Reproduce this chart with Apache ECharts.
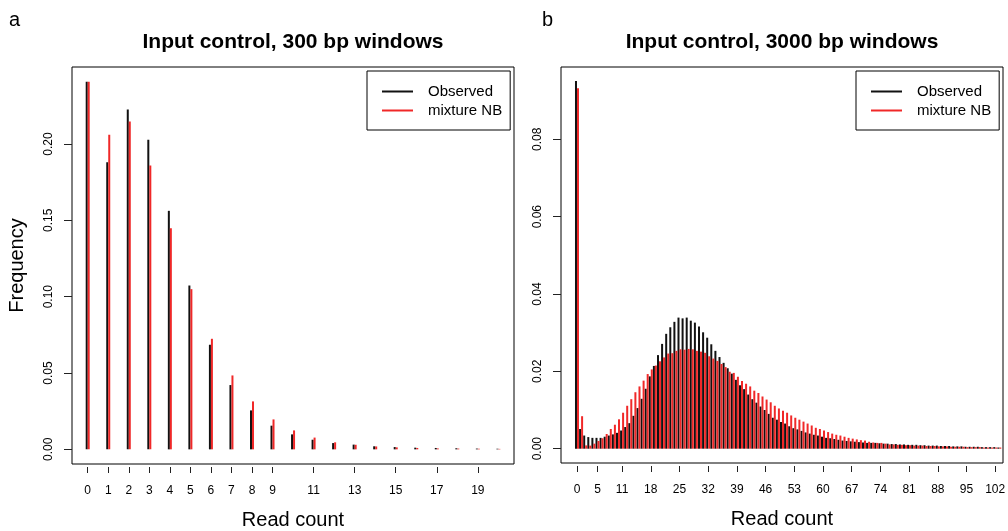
<!DOCTYPE html>
<html><head><meta charset="utf-8">
<script src="https://cdn.jsdelivr.net/npm/echarts@6/dist/echarts.min.js"></script>
<style>html,body{margin:0;padding:0;background:#fff}#c{width:1008px;height:531px}</style>
</head><body><div id="c"></div><script>
// ---- Panel a: 300 bp windows ----
const readCountsA = [0,1,2,3,4,5,6,7,8,9,10,11,12,13,14,15,16,17,18,19,20];
const observedA = [0.2408,0.1880,0.2225,0.2027,0.1562,0.1073,0.0685,0.0421,0.0255,0.0155,0.0098,0.0063,0.0041,0.0031,0.0020,0.0015,0.0011,0.0009,0.0007,0.0005,0.0004];
const mixtureA  = [0.2408,0.2060,0.2147,0.1859,0.1448,0.1049,0.0724,0.0484,0.0314,0.0196,0.0124,0.0077,0.0046,0.0030,0.0019,0.0013,0.0009,0.0006,0.0005,0.0004,0.0003];
const xTicksA = [0,1,2,3,4,5,6,7,8,9,11,13,15,17,19];
const yTicksA = [0,0.05,0.10,0.15,0.20];

// ---- Panel b: 3000 bp windows ----
const readCountsB = [0,1,2,3,4,5,6,7,8,9,10,11,12,13,14,15,16,17,18,19,20,21,22,23,24,25,26,27,28,29,30,31,32,33,34,35,36,37,38,39,40,41,42,43,44,45,46,47,48,49,50,51,52,53,54,55,56,57,58,59,60,61,62,63,64,65,66,67,68,69,70,71,72,73,74,75,76,77,78,79,80,81,82,83,84,85,86,87,88,89,90,91,92,93,94,95,96,97,98,99,100,101,102,103];
const observedB = [0.0951,0.0051,0.0034,0.0030,0.0028,0.0028,0.0028,0.0031,0.0034,0.0037,
  0.0041,0.0047,0.0056,0.0066,0.0085,0.0105,0.0129,0.0155,0.0187,0.0214,
  0.0242,0.0271,0.0297,0.0314,0.0328,0.0339,0.0337,0.0339,0.0331,0.0326,
  0.0316,0.0301,0.0287,0.0270,0.0253,0.0237,0.0222,0.0208,0.0194,0.0178,
  0.0164,0.0154,0.0140,0.0128,0.0119,0.0109,0.0100,0.0090,0.0080,0.0075,
  0.0069,0.0065,0.0058,0.0053,0.0050,0.0046,0.0042,0.0039,0.0036,0.0034,
  0.0031,0.0028,0.0027,0.0025,0.0023,0.0021,0.0020,0.0019,0.0018,0.0017,
  0.0016,0.0015,0.0015,0.0015,0.0014,0.0013,0.0013,0.0012,0.0012,0.0011,
  0.0011,0.0010,0.0010,0.0010,0.0009,0.0009,0.0008,0.0008,0.0008,0.0007,
  0.0007,0.0007,0.0006,0.0006,0.0006,0.0005,0.0005,0.0005,0.0005,0.0004,
  0.0004,0.0004,0.0004,0.0003];
const mixtureB = [0.0932,0.0084,0.00085,0.0008,0.0013,0.0020,0.0027,0.0038,0.0051,0.0062,
  0.0076,0.0093,0.0111,0.0128,0.0146,0.0161,0.0176,0.0193,0.0205,0.0215,
  0.0226,0.0236,0.0246,0.0247,0.0253,0.0257,0.0256,0.0258,0.0257,0.0253,
  0.0251,0.0248,0.0239,0.0233,0.0227,0.0219,0.0211,0.0199,0.0196,0.0186,
  0.0175,0.0168,0.0161,0.0150,0.0144,0.0135,0.0127,0.0120,0.0111,0.0104,
  0.0098,0.0093,0.0086,0.0080,0.0075,0.0070,0.0065,0.0060,0.0054,0.0051,
  0.0047,0.0043,0.0039,0.0036,0.0034,0.0031,0.0028,0.0026,0.0024,0.0022,
  0.0021,0.0018,0.0016,0.0015,0.0015,0.0013,0.0011,0.0011,0.0010,0.0010,
  0.0009,0.0009,0.0008,0.0008,0.0008,0.0007,0.0007,0.0007,0.0006,0.0006,
  0.0006,0.0005,0.0005,0.0005,0.0005,0.0004,0.0004,0.0004,0.0004,0.0003,
  0.0003,0.0003,0.0003,0.0003];
const xTicksB = [0,5,11,18,25,32,39,46,53,60,67,74,81,88,95,102];
const yTicksB = [0,0.02,0.04,0.06,0.08];

const FONT = "'Liberation Sans', Arial, Helvetica, sans-serif";
const BLACK = '#111111', RED = '#f02828';

function xAxisDef(grid, min, max, ticks) {
  return {
    gridIndex: grid, type: 'value', min: min, max: max, offset: 3, position: 'bottom',
    axisLine: {show: false, onZero: false},
    axisTick: {show: true, length: 6, customValues: ticks, lineStyle: {color: '#222', width: 1}},
    axisLabel: {customValues: ticks, margin: 18, fontSize: 12, color: '#000', fontFamily: FONT},
    splitLine: {show: false},
    name: 'Read count', nameLocation: 'middle', nameGap: 43,
    nameTextStyle: {fontSize: 20, color: '#000', fontFamily: FONT}
  };
}
function yAxisDef(grid, min, max, ticks, withName) {
  const ax = {
    gridIndex: grid, type: 'value', min: min, max: max, position: 'left',
    axisLine: {show: false, onZero: false},
    axisTick: {show: true, length: 8, customValues: ticks, lineStyle: {color: '#222', width: 1}},
    axisLabel: {customValues: ticks, rotate: 90, margin: 17, fontSize: 12, color: '#000', fontFamily: FONT,
      formatter: v => v.toFixed(2)},
    splitLine: {show: false}
  };
  if (withName) {
    ax.name = 'Frequency'; ax.nameLocation = 'middle'; ax.nameGap = 45; ax.nameRotate = 90;
    ax.nameTextStyle = {fontSize: 20, color: '#000', fontFamily: FONT};
  }
  return ax;
}
function legendDef(left) {
  return {
    orient: 'vertical', left: left, top: 71, data: ['Observed', 'mixture NB'],
    icon: 'rect', itemWidth: 31, itemHeight: 2, itemGap: 4,
    borderColor: '#000', borderWidth: 1, padding: [13, 8, 12, 15],
    selectedMode: false,
    textStyle: {fontSize: 15, color: '#000', fontFamily: FONT, padding: [0, 0, 0, 10]}
  };
}
function barSeries(name, idx, xs, ys, color) {
  return {
    type: 'bar', name: name, xAxisIndex: idx, yAxisIndex: idx,
    data: xs.map((x, i) => [x, ys[i]]),
    barWidth: 2, barGap: '0%', itemStyle: {color: color}, clip: true
  };
}

const chart = echarts.init(document.getElementById('c'), null, {renderer: 'canvas'});
chart.setOption({
  animation: false,
  backgroundColor: '#fff',
  textStyle: {fontFamily: FONT},
  title: [
    {text: 'Input control, 300 bp windows', left: 293, top: 32, textAlign: 'center', padding: 0,
     textStyle: {fontSize: 21, fontWeight: 'bold', color: '#000', fontFamily: FONT}},
    {text: 'Input control, 3000 bp windows', left: 782, top: 32, textAlign: 'center', padding: 0,
     textStyle: {fontSize: 21, fontWeight: 'bold', color: '#000', fontFamily: FONT}},
    {text: 'a', left: 9, top: 10, padding: 0, textStyle: {fontSize: 20, fontWeight: 'normal', color: '#000', fontFamily: FONT}},
    {text: 'b', left: 542, top: 10, padding: 0, textStyle: {fontSize: 20, fontWeight: 'normal', color: '#000', fontFamily: FONT}}
  ],
  legend: [legendDef(367), legendDef(856)],
  grid: [
    {left: 72, top: 67, width: 442, height: 397, show: true, borderColor: '#000', borderWidth: 1,
     backgroundColor: 'transparent', containLabel: false, outerBoundsMode: 'none'},
    {left: 561, top: 67, width: 442, height: 396, show: true, borderColor: '#000', borderWidth: 1,
     backgroundColor: 'transparent', containLabel: false, outerBoundsMode: 'none'}
  ],
  xAxis: [xAxisDef(0, -0.765, 20.76, xTicksA), xAxisDef(1, -3.9, 103.9, xTicksB)],
  yAxis: [yAxisDef(0, -0.0096, 0.2504, yTicksA, true), yAxisDef(1, -0.0037, 0.0987, yTicksB, false)],
  series: [
    barSeries('Observed', 0, readCountsA, observedA, BLACK),
    barSeries('mixture NB', 0, readCountsA, mixtureA, RED),
    barSeries('Observed', 1, readCountsB, observedB, BLACK),
    barSeries('mixture NB', 1, readCountsB, mixtureB, RED)
  ]
});
</script></body></html>
